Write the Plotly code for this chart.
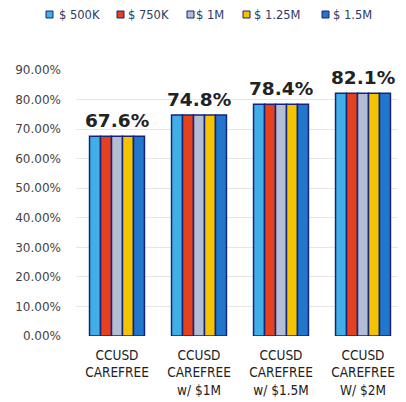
import plotly.graph_objects as go

categories = ["CCUSD<br>CAREFREE", "CCUSD<br>CAREFREE<br>w/ $1M", "CCUSD<br>CAREFREE<br>w/ $1.5M", "CCUSD<br>CAREFREE<br>W/ $2M"]
series_names = ["$ 500K", "$ 750K", "$ 1M", "$ 1.25M", "$ 1.5M"]
values_500k = [0.676, 0.748, 0.784, 0.821]
values_750k = [0.676, 0.748, 0.784, 0.821]
values_1m = [0.676, 0.748, 0.784, 0.821]
values_125m = [0.676, 0.748, 0.784, 0.821]
values_15m = [0.676, 0.748, 0.784, 0.821]
group_labels = ["67.6%", "74.8%", "78.4%", "82.1%"]
colors = ["#41aee6", "#e6411f", "#b3bdd4", "#f6c300", "#2276cc"]
outline = "#14247a"

# manual one-row legend layout (pixel offsets from the plot's left edge)
legend_square_x = [-30, 41, 111, 167, 246]
legend_text_x = [-19, 50, 118, 176, 255]

fig = go.Figure()
for name, vals, col in zip(series_names, [values_500k, values_750k, values_1m, values_125m, values_15m], colors):
    fig.add_trace(go.Bar(x=categories, y=vals, name=name, showlegend=False,
                         marker=dict(color=col, line=dict(color=outline, width=1.5))))

for cat, v, lab in zip(categories, values_500k, group_labels):
    fig.add_annotation(x=cat, y=v, text="<b>" + lab + "</b>", showarrow=False, yanchor="bottom", yshift=3,
                       font=dict(family="DejaVu Sans", size=18.5, color="#222222"))

for name, col, sx, tx in zip(series_names, colors, legend_square_x, legend_text_x):
    fig.add_shape(type="rect", xref="paper", yref="paper", xsizemode="pixel", ysizemode="pixel",
                  xanchor=0, yanchor=1, x0=sx, x1=sx + 7, y0=52, y1=59,
                  fillcolor=col, line=dict(color=outline, width=1))
    fig.add_annotation(xref="paper", yref="paper", x=0, y=1, xshift=tx, yshift=55.5,
                       xanchor="left", yanchor="middle", showarrow=False, text=name,
                       font=dict(family="DejaVu Sans", size=11.5, color="#2e3b66"))

fig.update_layout(
    width=398, height=394,
    margin=dict(l=68, r=2, t=62, b=66, autoexpand=False),
    paper_bgcolor="white", plot_bgcolor="white",
    barmode="group", bargap=0.33, bargroupgap=0,
    font=dict(family="DejaVu Sans Condensed, DejaVu Sans", size=10, color="#333333"),
    showlegend=False,
)
fig.update_yaxes(range=[0, 0.9], tickformat=".2%", dtick=0.1, showgrid=True, gridcolor="#e6e6e6",
                 zeroline=False, showline=False, ticks="", ticklabelstandoff=14,
                 tickfont=dict(family="DejaVu Sans", size=12, color="#444444"))
fig.update_xaxes(showline=False, ticks="", ticklabelstandoff=9, tickfont=dict(size=13.5, color="#222222"))

fig.write_html("out.html")
